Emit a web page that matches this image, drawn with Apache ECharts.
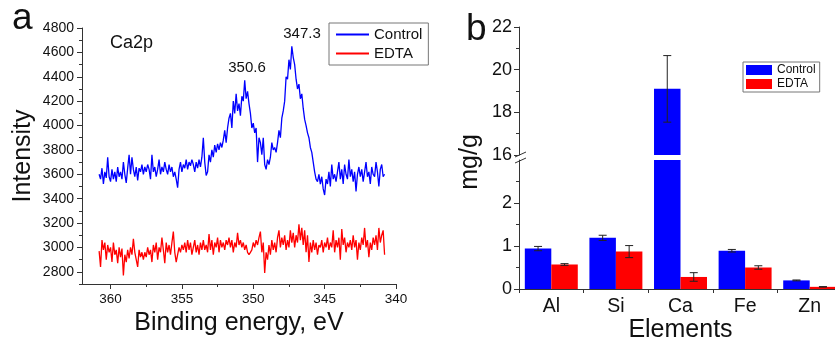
<!DOCTYPE html>
<html>
<head>
<meta charset="utf-8">
<script src="https://cdn.jsdelivr.net/npm/echarts@6/dist/echarts.min.js"></script>
<style>
  html, body { margin: 0; background: #fff; }
  #chart { width: 835px; height: 339px; }
</style>
</head>
<body>
<div id="chart"></div>
<script>
// panel a: XPS Ca2p scan, 360.8 -> 340.8 eV, one reading every 0.1 eV
const scanStart = 360.8;
const scanStep = 0.1;

const controlCounts = [
  3600, 3560, 3650, 3520, 3620, 3570, 3740, 3580, 3540, 3640,
  3560, 3620, 3540, 3660, 3580, 3620, 3560, 3700, 3600, 3530,
  3650, 3760, 3600, 3740, 3640, 3580, 3660, 3550, 3650, 3620,
  3680, 3600, 3660, 3620, 3680, 3640, 3560, 3760, 3620, 3660,
  3580, 3640, 3720, 3600, 3660, 3620, 3700, 3640, 3600, 3680,
  3620, 3660, 3580, 3620, 3560, 3490, 3640, 3700, 3620, 3680,
  3650, 3720, 3640, 3700, 3670, 3720, 3680, 3620, 3700, 3650,
  3720, 3660, 3740, 3900, 3700, 3590, 3620, 3760, 3700, 3800,
  3740, 3840, 3780, 3850, 3800, 3860, 3820, 3880, 3960, 3860,
  3980, 4060, 4100, 3980, 4200, 4100, 4260, 4120, 4180, 4080,
  4240, 4200, 4370, 4220, 4280, 4180, 4100, 3980, 4020, 3940,
  3980, 3700, 3900, 3860, 3760, 3900, 3680, 3640, 3720, 3680,
  3740, 3860, 3800, 3820, 3780, 3860, 3960, 3900, 4060, 4120,
  4200, 4400, 4380, 4540, 4460, 4650, 4560, 4500, 4380, 4300,
  4340, 4220, 4260, 4140, 4050, 4000, 3940, 3900, 3820, 3780,
  3700, 3620, 3560, 3540, 3600, 3520, 3580, 3480, 3430, 3560,
  3520, 3620, 3500, 3680, 3560, 3600, 3540, 3620, 3700, 3560,
  3640, 3520, 3680, 3600, 3560, 3720, 3580, 3640, 3540, 3620,
  3460, 3600, 3660, 3580, 3640, 3540, 3620, 3700, 3580, 3620,
  3520, 3660, 3600, 3580, 3700, 3620, 3500, 3640, 3680, 3580,
  3600
];

const edtaCounts = [
  2970, 2840, 3060, 2980, 3040, 2900, 3020, 2960, 3000, 2880,
  3040, 2940, 2980, 2870, 3000, 2920, 2990, 2770, 2940, 2880,
  2980, 2910, 3000, 2940, 3070, 2960, 2900, 2840, 2980, 2920,
  2960, 2900, 2960, 2920, 3000, 2940, 2980, 2880, 3020, 2960,
  3040, 2900, 3000, 2960, 3080, 2980, 2870, 3040, 2960, 3020,
  2940, 3040, 3130, 2960, 2880, 2940, 3000, 2960, 3020, 2980,
  3040, 2960, 3060, 2980, 3040, 2940, 3000, 3060, 2960, 3020,
  2940, 3040, 2980, 3060, 2980, 3020, 2960, 3110, 2980, 3060,
  2940, 3040, 3000, 3080, 2960, 3060, 3000, 3040, 2980, 3060,
  3020, 3080, 3000, 3060, 2960, 3040, 3000, 3120, 3020, 3060,
  3000, 3040, 2980, 3020, 2960, 2940, 2960, 2980, 3040, 3000,
  3060, 3020, 3080, 3130, 2960, 3040, 2790, 2960, 2900, 3020,
  2940, 3060, 2980, 3040, 2960, 3080, 3140, 3000, 3080, 3020,
  3100, 2980, 3060, 3000, 3140, 3040, 3120, 3000, 3100, 3040,
  3190, 3060, 3160, 3020, 3140, 2960, 3100, 2880, 3040, 2960,
  3060, 2980, 3040, 2940, 3020, 3000, 3060, 2960, 3040, 3000,
  3080, 2980, 3040, 3000, 3140, 2960, 3060, 3000, 3080, 2900,
  3150, 3020, 3080, 2960, 3040, 3000, 3060, 2980, 3100, 3000,
  3060, 2900, 3040, 2980, 3080, 3020, 3160, 3000, 3060, 2920,
  3040, 2980, 3080, 3020, 3100, 2980, 3160, 3040, 3100, 3140,
  2940
];

const energyTicks = [340, 345, 350, 355, 360];
const energyMinorTicks = [342.5, 347.5, 352.5, 357.5];
const intensityTicks = [2800, 3000, 3200, 3400, 3600, 3800, 4000, 4200, 4400, 4600, 4800];
const intensityMinorTicks = [2700, 2900, 3100, 3300, 3500, 3700, 3900, 4100, 4300, 4500, 4700];

// panel b: element content, mg/g
const elements = ['Al', 'Si', 'Ca', 'Fe', 'Zn'];
const controlMean = [0.94, 1.19, 19.1, 0.89, 0.20];
const controlErr = [0.05, 0.06, 1.56, 0.03, 0.01];
const edtaMean = [0.57, 0.87, 0.28, 0.50, 0.05];
const edtaErr = [0.02, 0.14, 0.10, 0.04, 0.005];

const upperTicks = [16, 18, 20, 22];
const upperMinorTicks = [17, 19, 21];
const lowerTicks = [0, 1, 2];
const lowerMinorTicks = [0.5, 1.5, 2.5];

const FONT = 'Arial, "Liberation Sans", sans-serif';
const INK = '#111';
const AXIS = '#333';
const BLUE = '#0000ff';
const RED = '#ff0000';

const toPairs = counts => counts.map((v, i) => [+(scanStart - i * scanStep).toFixed(1), v]);

function minorAxis(gridIndex, min, max, values, position) {
  return {
    type: 'value', gridIndex, min, max, position,
    axisLine: { show: false },
    axisLabel: { show: false },
    splitLine: { show: false },
    axisTick: { show: true, length: 3, customValues: values, lineStyle: { color: AXIS } }
  };
}

function mainValueAxis(gridIndex, min, max, ticks, fontSize, margin) {
  return {
    type: 'value', gridIndex, min, max, position: 'left',
    axisLine: { show: true, lineStyle: { color: AXIS, width: 1 } },
    axisTick: { show: true, length: 5, customValues: ticks, lineStyle: { color: AXIS } },
    axisLabel: {
      show: true, customValues: ticks, fontSize, fontFamily: FONT, color: INK, margin,
      formatter: v => String(v)
    },
    splitLine: { show: false }
  };
}

// error bars sit over the left (control) or right (EDTA) half of each category
function errorBars(side) {
  return function (params, api) {
    const i = api.value(0);
    const mean = api.value(1);
    const err = api.value(2);
    const top = api.coord([i, mean + err]);
    const bottom = api.coord([i, mean - err]);
    const band = api.size([1, 0])[0];
    const x = top[0] + side * band * 0.82 / 4;
    const cap = 4;
    const style = { stroke: '#222', lineWidth: 1 };
    return {
      type: 'group',
      children: [
        { type: 'line', shape: { x1: x, y1: top[1], x2: x, y2: bottom[1] }, style },
        { type: 'line', shape: { x1: x - cap, y1: top[1], x2: x + cap, y2: top[1] }, style },
        { type: 'line', shape: { x1: x - cap, y1: bottom[1], x2: x + cap, y2: bottom[1] }, style }
      ]
    };
  };
}

const chart = echarts.init(document.getElementById('chart'), null, { renderer: 'canvas' });

const option = {
  animation: false,
  backgroundColor: '#fff',
  grid: [
    { left: 82, top: 28, width: 314, height: 256, containLabel: false, outerBoundsMode: 'none' },
    { left: 519, top: 27, width: 323, height: 128, containLabel: false, outerBoundsMode: 'none' },
    { left: 519, top: 160, width: 323, height: 129, containLabel: false, outerBoundsMode: 'none' }
  ],
  xAxis: [
    {
      type: 'value', gridIndex: 0, min: 340, max: 362, inverse: true, position: 'bottom',
      axisLine: { show: true, lineStyle: { color: AXIS, width: 1 } },
      axisTick: { show: true, length: 5, customValues: energyTicks, lineStyle: { color: AXIS } },
      axisLabel: {
        show: true, customValues: energyTicks, fontSize: 13.5, fontFamily: FONT, color: INK, margin: 8,
        formatter: v => String(v)
      },
      splitLine: { show: false },
      name: 'Binding energy, eV', nameLocation: 'middle', nameGap: 26,
      nameTextStyle: { fontSize: 25, fontFamily: FONT, color: INK }
    },
    Object.assign(minorAxis(0, 340, 362, energyMinorTicks, 'bottom'), { inverse: true }),
    { type: 'category', gridIndex: 1, data: elements, show: false },
    {
      type: 'category', gridIndex: 2, data: elements, position: 'bottom',
      axisLine: { show: true, lineStyle: { color: AXIS, width: 1 } },
      axisTick: { show: true, length: 4, interval: 0, lineStyle: { color: AXIS } },
      axisLabel: { fontSize: 19.5, fontFamily: FONT, color: INK, margin: 8 },
      name: 'Elements', nameLocation: 'middle', nameGap: 26,
      nameTextStyle: { fontSize: 25, fontFamily: FONT, color: INK }
    }
  ],
  yAxis: [
    Object.assign(mainValueAxis(0, 2700, 4800, intensityTicks, 14, 8), {
      name: 'Intensity', nameLocation: 'middle', nameGap: 46,
      nameTextStyle: { fontSize: 25, fontFamily: FONT, color: INK }
    }),
    minorAxis(0, 2700, 4800, intensityMinorTicks, 'left'),
    mainValueAxis(1, 16, 22, upperTicks, 18, 7),
    minorAxis(1, 16, 22, upperMinorTicks, 'left'),
    mainValueAxis(2, 0, 3, lowerTicks, 18, 7),
    minorAxis(2, 0, 3, lowerMinorTicks, 'left')
  ],
  legend: [
    {
      left: 329, top: 23, orient: 'vertical', itemGap: 4, padding: [4, 6, 4, 7],
      borderColor: '#777', borderWidth: 1, backgroundColor: '#fff',
      icon: 'rect', itemWidth: 33, itemHeight: 2,
      textStyle: { fontSize: 15, fontFamily: FONT, color: INK },
      selectedMode: false,
      data: [
        { name: 'Control', itemStyle: { color: BLUE } },
        { name: 'EDTA', itemStyle: { color: RED } }
      ]
    },
    {
      left: 743, top: 62, orient: 'vertical', itemGap: 2, padding: [2, 4, 2, 3],
      borderColor: '#777', borderWidth: 1, backgroundColor: '#fff',
      icon: 'rect', itemWidth: 26, itemHeight: 10,
      textStyle: { fontSize: 12, fontFamily: FONT, color: INK },
      selectedMode: false,
      data: [
        { name: 'Control', itemStyle: { color: BLUE } },
        { name: 'EDTA', itemStyle: { color: RED } }
      ]
    }
  ],
  series: [
    {
      name: 'Control', type: 'line', xAxisIndex: 0, yAxisIndex: 0,
      symbol: 'none', data: toPairs(controlCounts),
      lineStyle: { color: BLUE, width: 1.3 }, itemStyle: { color: BLUE }
    },
    {
      name: 'EDTA', type: 'line', xAxisIndex: 0, yAxisIndex: 0,
      symbol: 'none', data: toPairs(edtaCounts),
      lineStyle: { color: RED, width: 1.3 }, itemStyle: { color: RED }
    },
    // broken axis: the same bars go in both halves and each half clips its own range
    ...[[2, 2], [3, 4]].flatMap(([xi, yi]) => [
      {
        name: 'Control', type: 'bar', xAxisIndex: xi, yAxisIndex: yi, clip: true,
        barGap: '0%', barCategoryGap: '18%',
        data: controlMean, itemStyle: { color: BLUE }
      },
      {
        name: 'EDTA', type: 'bar', xAxisIndex: xi, yAxisIndex: yi, clip: true,
        barGap: '0%', barCategoryGap: '18%',
        data: edtaMean, itemStyle: { color: RED }
      },
      {
        type: 'custom', xAxisIndex: xi, yAxisIndex: yi, clip: true, z: 5,
        renderItem: errorBars(-1), encode: { x: 0, y: 1 },
        data: elements.map((_, i) => [i, controlMean[i], controlErr[i]])
      },
      {
        type: 'custom', xAxisIndex: xi, yAxisIndex: yi, clip: true, z: 5,
        renderItem: errorBars(1), encode: { x: 0, y: 1 },
        data: elements.map((_, i) => [i, edtaMean[i], edtaErr[i]])
      }
    ])
  ],
  graphic: [
    { type: 'text', x: 12, y: 19, style: { text: 'a', font: '37px ' + FONT, fill: INK, textVerticalAlign: 'middle' } },
    { type: 'text', x: 466, y: 30, style: { text: 'b', font: '37px ' + FONT, fill: INK, textVerticalAlign: 'middle' } },
    { type: 'text', x: 110, y: 43, style: { text: 'Ca2p', font: '18px ' + FONT, fill: INK, textVerticalAlign: 'middle' } },
    { type: 'text', x: 247, y: 68, style: { text: '350.6', font: '15px ' + FONT, fill: INK, textAlign: 'center', textVerticalAlign: 'middle' } },
    { type: 'text', x: 302, y: 34, style: { text: '347.3', font: '15px ' + FONT, fill: INK, textAlign: 'center', textVerticalAlign: 'middle' } },
    { type: 'text', x: 470, y: 162, rotation: Math.PI / 2, style: { text: 'mg/g', font: '25px ' + FONT, fill: INK, textAlign: 'center', textVerticalAlign: 'middle' } },
    // break marks on the mg/g axis
    { type: 'line', shape: { x1: 515, y1: 157, x2: 526, y2: 152 }, style: { stroke: AXIS, lineWidth: 1 } },
    { type: 'line', shape: { x1: 515, y1: 163, x2: 526, y2: 158 }, style: { stroke: AXIS, lineWidth: 1 } }
  ]
};

chart.setOption(option);
window.addEventListener('resize', () => chart.resize());
</script>
</body>
</html>
